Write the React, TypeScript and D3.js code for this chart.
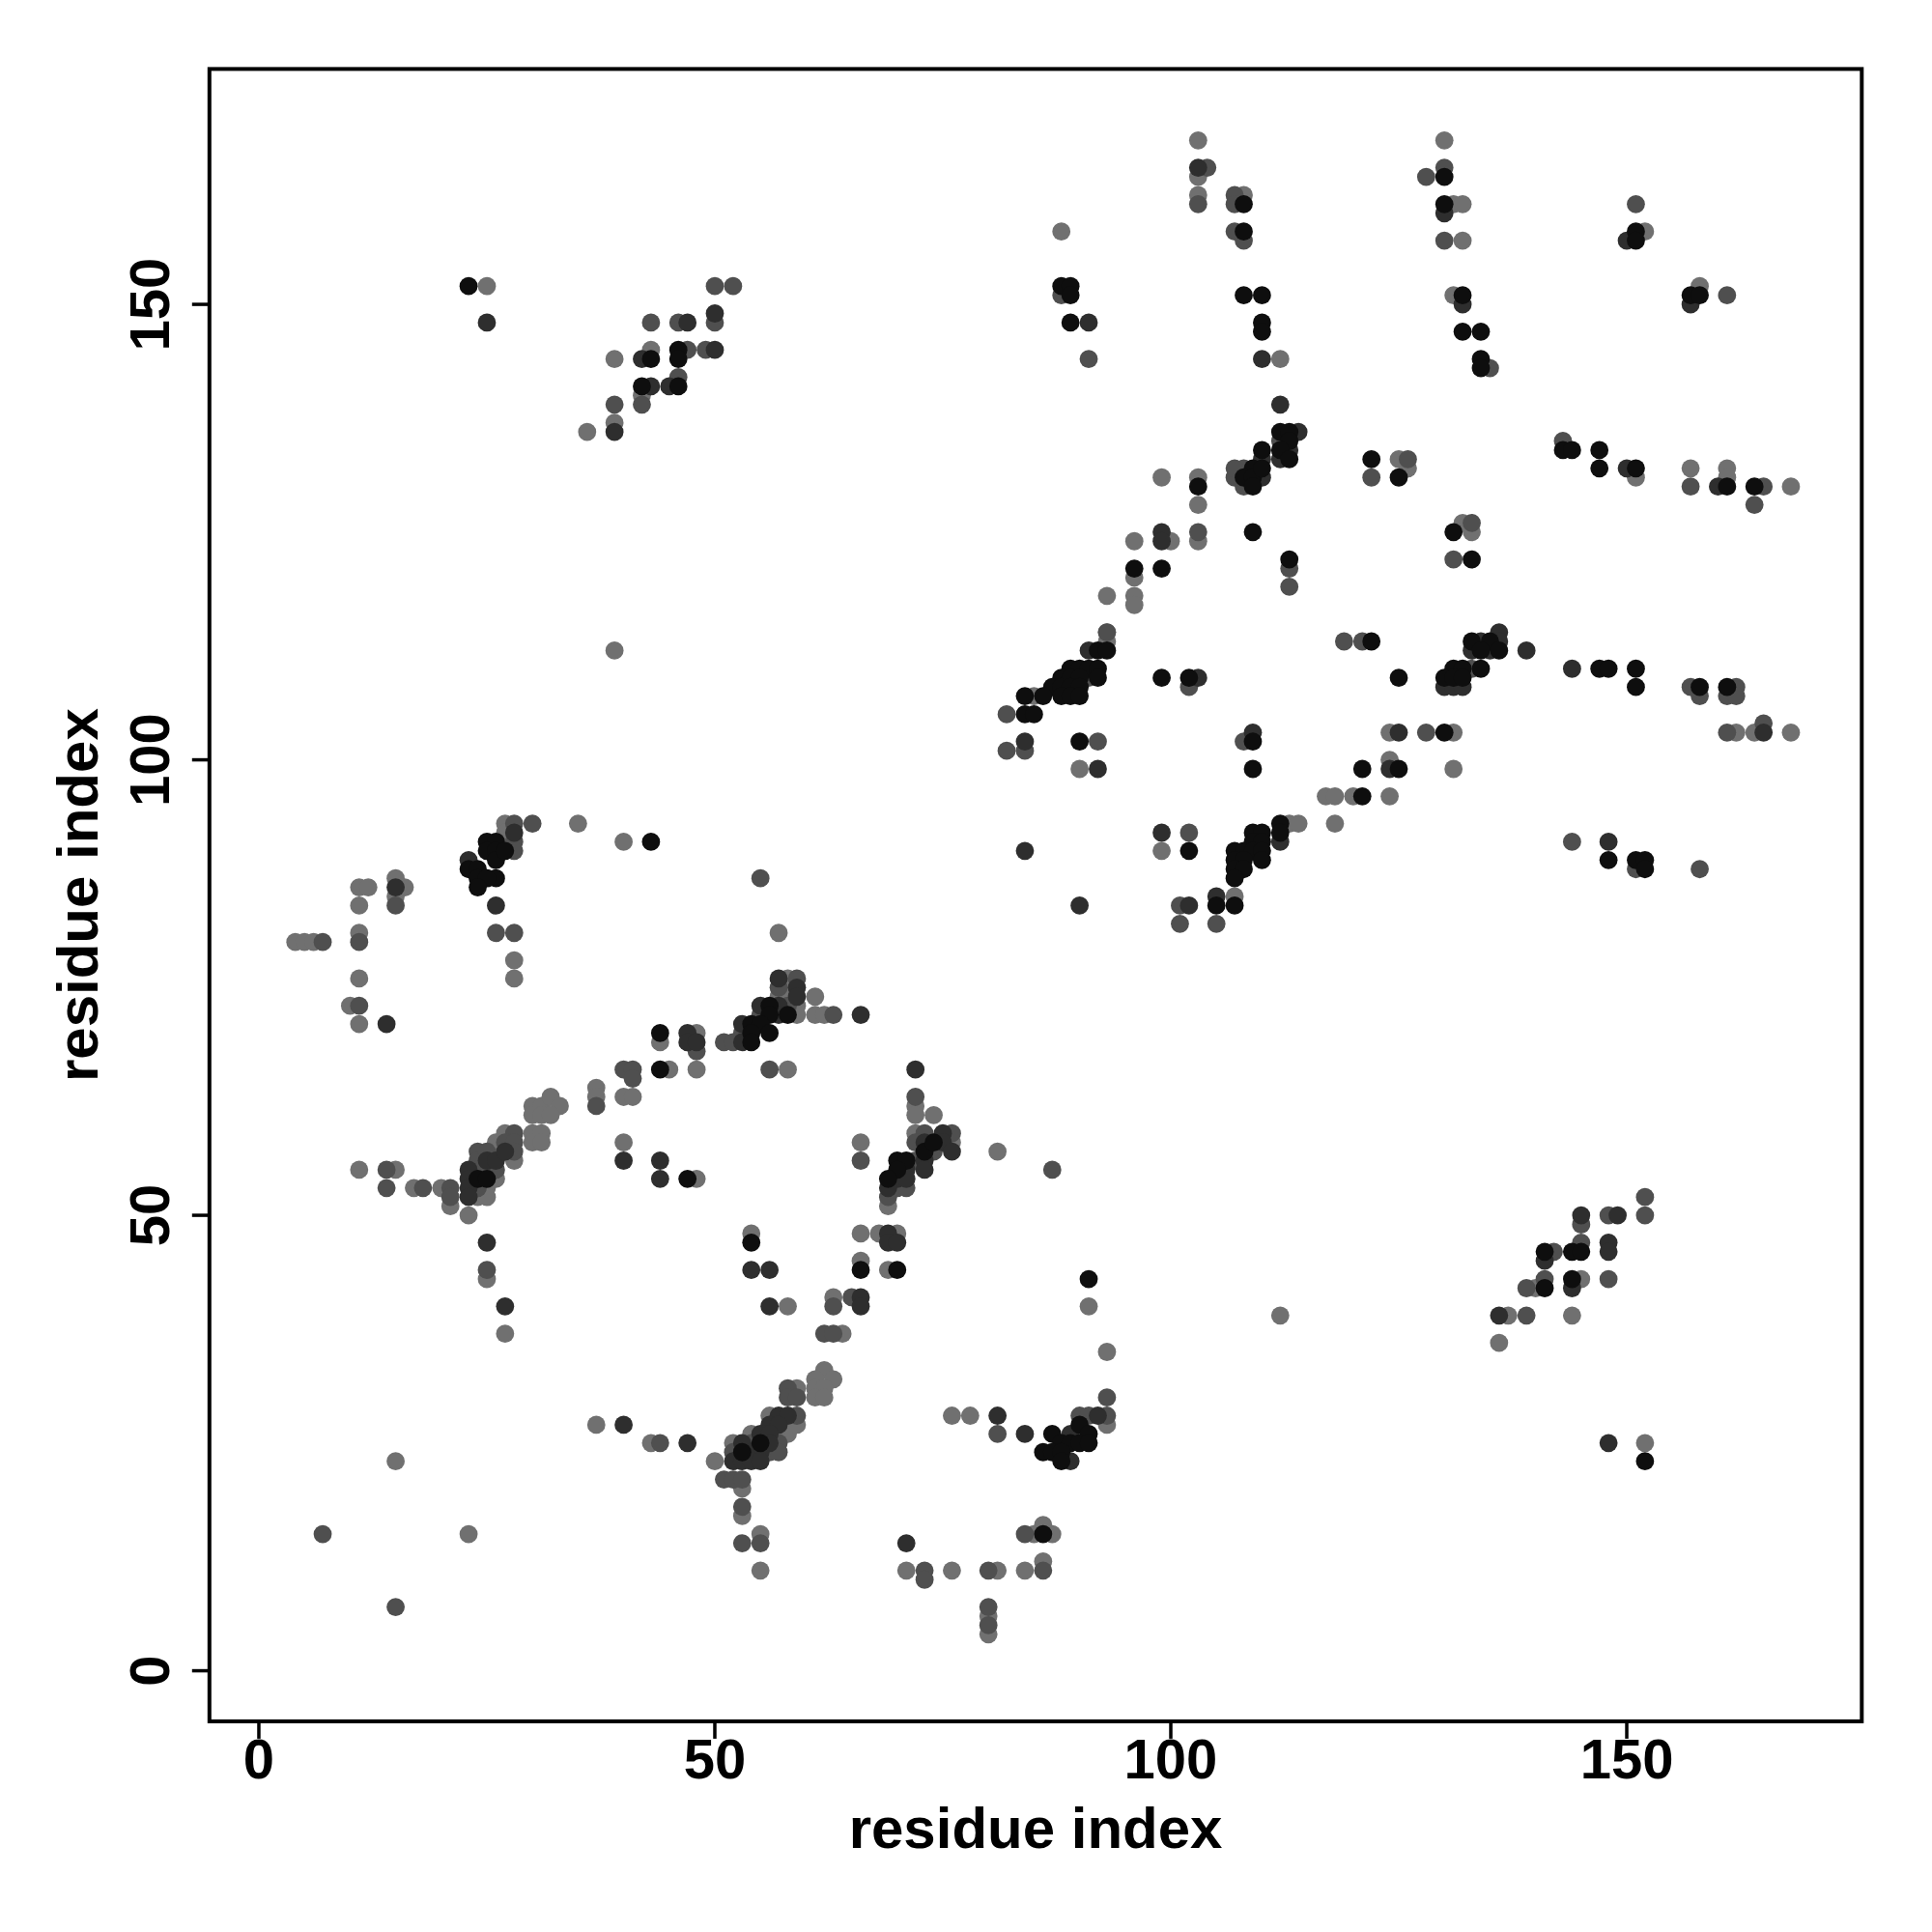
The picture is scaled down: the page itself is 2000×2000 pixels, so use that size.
import React from 'react';
import * as d3 from 'd3';

// contacts [residue i (x), residue j (y)], grouped by shade (darker = stronger)
const blackContacts: [number, number][] = [
  [23,152],[43,144],[42,141],[46,145],[46,144],[46,141],
  [108,161],[108,158],[88,152],[89,152],[89,151],[89,148],[108,151],[110,151],[110,148],[110,147],
  [112,136],[113,136],[113,135],[112,134],[113,133],[110,134],[109,132],[108,131],[109,131],[110,132],
  [109,130],[103,130],[109,125],[96,121],[99,121],[113,122],[122,133],[125,131],
  [130,164],[130,161],[132,151],[132,147],[134,147],[134,144],[134,143],[151,158],[151,157],[157,151],
  [158,151],[143,134],[144,134],[147,134],[147,132],[151,132],[161,130],[164,130],[131,125],[133,122],
  [43,91],[25,91],[26,91],[25,90],[26,90],[26,89],[23,88],[24,88],[24,87],[26,87],[25,87],[24,86],[27,90],
  [44,70],[44,66],
  [84,107],[84,105],[85,105],[56,73],[56,72],[58,72],[54,71],[55,71],[56,70],[54,70],[54,69],
  [122,113],[92,112],[93,112],[89,110],[90,110],[91,110],[92,110],[88,109],[89,109],[90,109],[92,109],
  [87,108],[88,108],[89,108],[90,108],[86,107],[88,107],[89,107],[90,107],[99,109],[102,109],[125,109],
  [90,102],[109,102],[109,99],[121,99],[125,99],[121,96],[112,93],[112,92],[109,92],[110,92],[109,91],
  [110,91],[107,90],[108,90],[109,90],[110,90],[107,89],[108,89],[110,89],[107,88],[108,88],[107,87],
  [102,90],[105,84],[107,84],
  [133,113],[135,113],[134,112],[136,112],[131,110],[132,110],[134,110],[130,109],[131,109],[132,109],
  [147,110],[148,110],[151,110],[151,108],[158,108],[161,108],[130,103],[148,89],[151,89],[152,89],[152,88],
  [24,54],[25,54],
  [47,54],[54,47],[66,44],[70,44],[73,57],[74,58],[70,56],[71,56],[70,55],[69,54],[55,25],[53,24],
  [91,43],[90,27],[91,26],[87,26],[88,25],[89,25],[90,25],[91,25],[86,24],[87,24],[88,24],[88,23],[86,15],
  [144,46],[145,46],[141,46],[141,42],[144,43],[152,23],
];

const darkContacts: [number, number][] = [
  [25,148],[42,144],[43,141],[39,136],[47,148],[50,149],[50,145],[45,141],
  [103,165],[91,148],[110,144],[112,139],[114,136],[113,134],[112,133],[110,133],[110,131],[99,125],[99,124],
  [130,160],[132,150],[150,157],[157,150],[150,132],[160,130],
  [28,92],[23,89],[26,84],[15,86],[14,71],
  [84,102],[84,90],[57,76],[59,75],[59,74],[57,73],[66,72],[55,73],[57,72],[53,71],[53,69],[47,70],
  [47,69],[48,69],[72,66],[75,59],
  [91,112],[103,109],[92,99],[109,103],[125,103],[124,99],[112,91],[99,92],[90,84],[102,84],[105,85],
  [136,114],[134,113],[136,113],[133,112],[135,112],[130,108],[131,108],[132,108],[139,112],[144,110],
  [165,103],[148,91],
  [23,55],[23,54],[23,53],[23,52],[25,56],[26,56],[27,57],[25,47],[27,40],[40,27],[40,56],[44,56],[44,54],
  [73,58],[75,58],[76,57],[73,56],[71,55],[73,55],[70,54],[71,54],[69,53],[54,44],[56,44],[56,40],
  [69,48],[69,47],[70,47],[66,41],[66,40],[57,28],[58,28],[56,27],[57,27],[55,26],[56,26],[56,25],
  [53,25],[54,24],[55,24],[52,23],[53,23],[54,23],[55,23],[47,25],[81,28],[84,26],[71,14],
  [92,28],[89,26],[89,23],
  [145,50],[149,50],[148,47],[148,46],[141,45],[144,42],[136,39],[148,25],
];

const midContacts: [number, number][] = [
  [43,148],[42,139],[39,139],[46,148],[50,152],[52,152],[50,148],[47,145],[49,145],[46,142],
  [104,165],[103,161],[107,162],[107,161],[107,158],[108,157],[88,151],[91,144],[112,135],[108,132],
  [107,131],[108,130],[107,132],[103,125],[93,114],[113,121],[113,119],[122,131],[126,133],
  [130,165],[128,164],[130,157],[135,143],[151,161],[161,151],[143,135],[157,130],[165,130],[164,128],
  [133,126],[131,122],
  [28,93],[30,93],[28,91],[28,90],[26,81],[28,81],[11,80],[7,80],[11,73],[15,84],[40,66],[41,66],[41,65],
  [37,62],[28,59],
  [82,105],[82,101],[84,101],[55,87],[59,76],[57,75],[58,73],[63,72],[55,72],[53,70],[51,69],[52,69],
  [48,68],[56,66],[72,63],[73,59],[76,59],[66,56],
  [119,113],[121,113],[91,109],[102,108],[92,102],[108,102],[128,103],[102,92],[101,84],[101,82],[105,82],
  [133,110],[157,108],[158,107],[162,108],[161,107],[162,107],[161,103],[165,104],[144,91],[151,88],[158,88],
  [14,55],[14,53],[18,53],[21,53],[21,52],[24,57],[24,56],[24,55],[24,53],[25,57],[26,55],[27,58],[28,58],
  [28,57],[25,44],[44,25],[7,15],[15,7],
  [72,58],[74,57],[72,56],[70,53],[71,53],[69,52],[63,40],[65,41],[62,37],[63,37],[58,31],[58,30],[59,30],
  [59,28],[54,25],[57,25],[52,24],[56,24],[57,24],[51,21],[52,21],[53,21],[53,18],[53,14],[55,14],[81,26],
  [73,11],[73,10],[80,11],[80,7],[80,5],[84,15],
  [87,55],[93,30],[93,28],[90,28],[91,28],[86,11],
  [152,52],[152,50],[145,49],[148,50],[145,47],[142,46],[141,43],[148,43],[139,42],[139,39],
];

const lightContacts: [number, number][] = [
  [25,152],[39,144],[43,145],[42,140],[39,137],[36,136],
  [103,168],[103,164],[103,162],[108,162],[88,158],[112,144],[99,131],[103,131],[103,128],[100,124],
  [103,124],[96,124],[96,120],[93,118],[96,118],[96,117],[125,133],[126,132],
  [130,168],[131,161],[132,161],[132,157],[131,151],[152,158],[158,152],[151,131],[157,132],[161,132],
  [161,131],[168,130],[132,126],[133,125],
  [39,112],[27,93],[35,93],[27,92],[11,86],[12,86],[11,84],[11,81],[4,80],[5,80],[6,80],[28,78],[28,76],
  [11,76],[10,73],[11,71],[15,87],[16,86],[15,85],[40,91],[37,64],[37,63],[40,63],[41,63],[30,62],[31,62],
  [32,63],[33,62],[30,61],[31,61],[32,61],[27,59],[30,59],[31,59],
  [85,107],[57,81],[58,76],[58,75],[57,74],[61,74],[59,73],[61,72],[62,72],[59,72],[44,69],[48,70],
  [45,66],[48,66],[58,66],[72,62],[72,61],[74,61],[72,59],
  [93,114],[93,113],[90,99],[124,103],[124,100],[117,96],[118,96],[120,96],[124,96],[118,93],[113,93],
  [114,93],[99,90],[107,85],
  [131,103],[131,99],[162,103],[164,103],[168,103],
  [11,55],[15,55],[17,53],[20,53],[21,51],[23,50],[24,52],[25,53],[25,52],[26,58],[26,54],[28,56],[30,58],
  [31,58],[25,43],[27,37],[37,27],[43,25],[15,23],[23,15],[40,58],
  [48,54],[66,58],[76,58],[69,51],[81,57],[54,48],[58,40],[66,48],[68,48],[70,48],[66,45],[69,44],[63,41],
  [64,37],[62,33],[63,32],[61,32],[61,31],[62,31],[61,30],[62,30],[59,31],[56,28],[58,26],[59,27],[54,26],
  [52,25],[50,23],[53,20],[53,17],[55,15],[55,11],[76,28],[78,28],[71,11],[76,11],[81,11],[84,11],[80,6],
  [80,4],[85,15],
  [93,35],[93,27],[91,40],[112,39],[86,16],[87,15],[86,12],
  [145,43],[140,42],[137,39],[144,39],[136,36],[152,25],
];

const xTicks = [0, 50, 100, 150];
const yTicks = [0, 50, 100, 150];
const xTitle = 'residue index';
const yTitle = 'residue index';

export default function App() {
  const left = 216.8, right = 1927.3, top = 71.4, bottom = 1781.9;
  const x = d3.scaleLinear().domain([-5.42, 175.77]).range([left, right]);
  const y = d3.scaleLinear().domain([-5.55, 175.84]).range([bottom, top]);
  const layers = [
    { key: 'light', data: lightContacts, color: '#707070' },
    { key: 'mid', data: midContacts, color: '#4f4f4f' },
    { key: 'dark', data: darkContacts, color: '#2e2e2e' },
    { key: 'black', data: blackContacts, color: '#0e0e0e' },
  ];
  const font = "'Liberation Sans', Arial, Helvetica, sans-serif";
  const r = 9.4;
  return (
    <svg width={2000} height={2000} style={{ position: 'absolute', left: 0, top: 0, background: '#fff' }}
      xmlns="http://www.w3.org/2000/svg">
      <rect x={0} y={0} width={2000} height={2000} fill="#fff" />
      {layers.map((l) => (
        <g key={l.key} fill={l.color}>
          {l.data.map((d, i) => (
            <circle key={i} cx={x(d[0])} cy={y(d[1])} r={r} />
          ))}
        </g>
      ))}
      <rect x={left} y={top} width={right - left} height={bottom - top} fill="none" stroke="#000" strokeWidth={4} />
      {xTicks.map((t) => (
        <g key={'x' + t}>
          <line x1={x(t)} x2={x(t)} y1={bottom} y2={bottom + 18} stroke="#000" strokeWidth={3.5} />
          <text x={x(t)} y={1841} textAnchor="middle" fontFamily={font} fontWeight="bold" fontSize={58}>{t}</text>
        </g>
      ))}
      {yTicks.map((t) => (
        <g key={'y' + t}>
          <line x1={left} x2={left - 18} y1={y(t)} y2={y(t)} stroke="#000" strokeWidth={3.5} />
          <text transform={`translate(175,${y(t)}) rotate(-90)`} textAnchor="middle" fontFamily={font}
            fontWeight="bold" fontSize={58}>{t}</text>
        </g>
      ))}
      <text x={(left + right) / 2} y={1913} textAnchor="middle" fontFamily={font} fontWeight="bold" fontSize={60}>{xTitle}</text>
      <text transform={`translate(101,${(top + bottom) / 2}) rotate(-90)`} textAnchor="middle" fontFamily={font}
        fontWeight="bold" fontSize={60}>{yTitle}</text>
    </svg>
  );
}
